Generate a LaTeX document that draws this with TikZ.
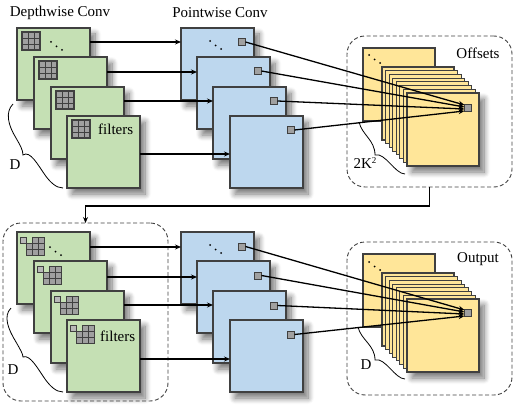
\documentclass[tikz,border=0pt]{standalone}
\usepackage{fontspec}
\setmainfont{Liberation Serif}
\usetikzlibrary{arrows.meta,calc,shadows.blur}
\definecolor{gfill}{HTML}{C5E0B4}
\definecolor{bfill}{HTML}{BDD7EE}
\definecolor{yfill}{HTML}{FFE699}
\definecolor{edgec}{HTML}{404040}
\definecolor{cellfill}{HTML}{A0A0A0}
\tikzset{
  sq/.style={draw=edgec, line width=1.1pt, minimum width=73pt, minimum height=72pt,
    anchor=north west, inner sep=0pt, outer sep=0pt},
  shd/.style={blur shadow={shadow xshift=5pt, shadow yshift=-6pt, shadow blur steps=10, shadow opacity=55, shadow blur radius=6pt}},
  gsq/.style={sq, fill=gfill, shd},
  bsq/.style={sq, fill=bfill, shd},
  ysq/.style={sq, fill=yfill, minimum width=72pt, minimum height=73pt},
  cell/.style={draw=edgec, fill=cellfill, line width=0.9pt, minimum size=7pt, inner sep=0pt, outer sep=0pt},
  conn/.style={draw=black, line width=1.3pt, -{Stealth[length=6pt,width=5pt]}},
  dbox/.style={draw=edgec, dash pattern=on 4pt off 2.5pt, line width=0.9pt, rounded corners=18pt,
    anchor=north west, inner sep=0pt, outer sep=0pt},
  brc/.style={draw=black, line width=0.8pt},
  lbl/.style={font=\fontsize{15}{18}\selectfont, inner sep=0pt},
  gridicon/.pic={
    \foreach \i in {0,1,2}
      \foreach \j in {0,1,2}
        \draw[draw=edgec, fill=cellfill, line width=0.9pt] (\i*6,\j*6) rectangle ++(6,6);
    \draw[draw=edgec, line width=1.1pt] (0,0) rectangle (18,18);
  },
  deficon/.pic={
    \draw[draw=edgec, fill=cellfill!75, line width=0.9pt] (0,0) rectangle ++(6,6);
    \foreach \i in {2,3}
      \draw[draw=edgec, fill=cellfill, line width=0.9pt] (\i*6,0) rectangle ++(6,6);
    \foreach \i in {1,2,3}
      \foreach \j in {1,2}
        \draw[draw=edgec, fill=cellfill, line width=0.9pt] (\i*6,\j*6) rectangle ++(6,6);
  },
  dotsicon/.pic={
    \fill (0,0) circle (1);
    \fill (5.5,4.5) circle (1);
    \fill (11,8) circle (1);
  }
}
\begin{document}
\begin{tikzpicture}[x=1pt,y=-1pt]
\useasboundingbox (0,0) rectangle (514,409);

% ---------------- titles
\node[lbl] (t1) at (60,13) {Depthwise Conv};
\node[lbl] (t2) at (220,13) {Pointwise Conv};

% ================= TOP HALF
% green depthwise squares
\node[gsq] (g1) at (17,28) {};
\node[gsq] (g2) at (34,57) {};
\node[gsq] (g3) at (51,87) {};
\node[gsq] (g4) at (67,116) {};
\foreach \k in {1,...,4} \pic at ($(g\k.north west)+(5,4)$) {gridicon};
\pic at (51,42) {dotsicon};
\node[lbl, anchor=west] (f1) at ($(g4.north west)+(31,13)$) {filters};

% blue pointwise squares
\node[bsq] (b1) at (181,28) {};
\node[bsq] (b2) at (197,57) {};
\node[bsq] (b3) at (213,87) {};
\node[bsq] (b4) at (230,116) {};
\pic at (210,41) {dotsicon};
\foreach \k in {1,...,4} \node[cell] (p\k) at ($(b\k.north west)+(61,14)$) {};

% offsets box
\node[dbox, minimum width=165pt, minimum height=151pt] (offbox) at (347,36) {};
\node[ysq] (yb) at (363,48) {};
\pic at (369,55) {dotsicon};
\foreach \i in {0,...,6} \node[ysq] (ys\i) at (382+\i*3.57, 67+\i*3.71) {};
\node[ysq, shd] (yf) at (407,93) {};
\node[cell] (tg) at ($(yf.north west)+(61,15)$) {};
\node[lbl] (offl) at (478,53) {Offsets};
\node[lbl] (k2) at (365,163) {2K\raisebox{5pt}{\fontsize{9}{10}\selectfont 2}};

% braces
\draw[brc] (13,104) .. controls (5,112) and (8,125) .. (16,138) .. controls (20,145) and (23,150) .. (23,155)
  .. controls (30,150) and (38,165) .. (45,175) .. controls (50,182) and (56,188) .. (63,188);
\node[lbl] (d1) at (15,165) {D};
\draw[brc] (359,122) .. controls (362,135) and (375,140) .. (375,155) .. controls (385,152) and (395,174) .. (405,174);

% connectors
\draw[conn] ($(g1.north east)+(0,14)$) -- ($(b1.north west)+(0,14)$);
\draw[conn] ($(g2.north east)+(0,15)$) -- ($(b2.north west)+(0,15)$);
\draw[conn] ($(g3.north east)+(0,14)$) -- ($(b3.north west)+(0,14)$);
\draw[conn] ($(g4.north east)+(0,38)$) -- ($(b4.north west)+(0,38)$);
\draw[conn] (p1.east) -- ($(tg.west)+(0,-3)$);
\draw[conn] (p2.east) -- ($(tg.west)+(0,-1)$);
\draw[conn] (p3.east) -- ($(tg.west)+(0,1)$);
\draw[conn] (p4.east) -- ($(tg.west)+(0,3)$);

% ================= BOTTOM HALF
\begin{scope}[yshift=-204pt]
\node[dbox, minimum width=165pt, minimum height=178pt] (dbl) at (3,19) {};
\node[gsq] (h1) at (17,28) {};
\node[gsq] (h2) at (34,57) {};
\node[gsq] (h3) at (51,87) {};
\node[gsq] (h4) at (67,116) {};
\foreach \k in {1,...,4} \pic at ($(h\k.north west)+(3,5)$) {deficon};
\pic at (50,43) {dotsicon};
\node[lbl, anchor=west] (f2) at ($(h4.north west)+(33,16)$) {filters};

\node[bsq] (c1) at (181,28) {};
\node[bsq] (c2) at (197,57) {};
\node[bsq] (c3) at (213,87) {};
\node[bsq] (c4) at (230,116) {};
\pic at (210,41) {dotsicon};
\foreach \k in {1,...,4} \node[cell] (q\k) at ($(c\k.north west)+(61,14.5)$) {};

\node[dbox, minimum width=165pt, minimum height=153pt] (outbox) at (347,38) {};
\node[ysq] (zb) at (363,50) {};
\pic at (369,58) {dotsicon};
\foreach \i in {0,...,6} \node[ysq] (zs\i) at (382+\i*3.57, 69+\i*3.71) {};
\node[ysq, shd] (zf) at (407,95) {};
\node[cell] (tq) at ($(zf.north west)+(61,14)$) {};
\node[lbl] (outl) at (478,55) {Output};
\node[lbl] (d3) at (366,161) {D};

\draw[brc] (11,104) .. controls (3,112) and (8,125) .. (16,138) .. controls (20,145) and (23,150) .. (23,153)
  .. controls (30,150) and (38,165) .. (45,175) .. controls (50,182) and (56,188) .. (63,188);
\node[lbl] (d2) at (13,166) {D};
\draw[brc] (358,123) .. controls (361,136) and (375,141) .. (375,156) .. controls (385,153) and (395,175) .. (405,175);

\draw[conn] ($(h1.north east)+(0,15)$) -- ($(c1.north west)+(0,15)$);
\draw[conn] ($(h2.north east)+(0,16)$) -- ($(c2.north west)+(0,16)$);
\draw[conn] ($(h3.north east)+(0,14)$) -- ($(c3.north west)+(0,14)$);
\draw[conn] ($(h4.north east)+(0,39)$) -- ($(c4.north west)+(0,39)$);
\draw[conn] (q1.east) -- ($(tq.west)+(0,-3)$);
\draw[conn] (q2.east) -- ($(tq.west)+(0,-1)$);
\draw[conn] (q3.east) -- ($(tq.west)+(0,1)$);
\draw[conn] (q4.east) -- ($(tq.west)+(0,3)$);
\end{scope}

% link from offsets to bottom-left box
\draw[conn] (offbox.south) -- ++(0,19) -| (dbl.north);
\end{tikzpicture}
\end{document}
